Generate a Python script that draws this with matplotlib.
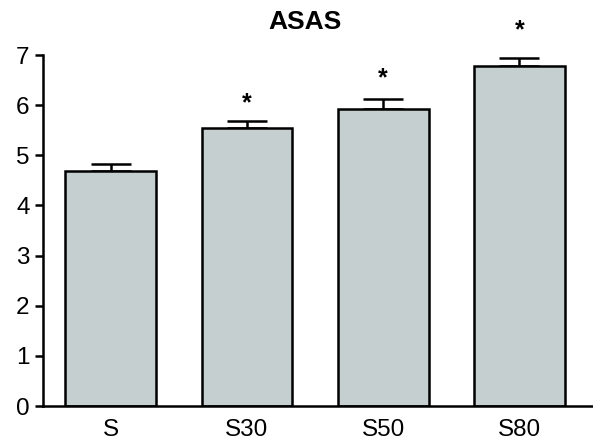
import numpy as np
import matplotlib.pyplot as plt

plt.rcParams['font.family'] = ['Liberation Sans', 'DejaVu Sans']

groups = ['S', 'S30', 'S50', 'S80']
means = [4.69, 5.54, 5.92, 6.78]
sem = [0.13, 0.14, 0.20, 0.16]
significant = [False, True, True, True]
star_offset = [18, 18, 21, 28]  # px above the error cap

fig = plt.figure(figsize=(5.93, 4.43), dpi=100)
ax = fig.add_axes([0.072, 0.0835, 0.928, 0.7923])

lw = 1.8
x = np.arange(len(groups))
ax.bar(x, means, width=0.667, color='#c5cfcf', edgecolor='black',
       linewidth=lw, zorder=2)
ax.errorbar(x, means, yerr=[np.zeros(len(sem)), sem], fmt='none',
            ecolor='black', elinewidth=lw, capsize=14.5, capthick=lw,
            zorder=1)

for xi, m, e, sig, off in zip(x, means, sem, significant, star_offset):
    if sig:
        ax.annotate('*', (xi, m + e), xytext=(0, off * 0.72),
                    textcoords='offset points', ha='center', va='center',
                    fontsize=18, fontweight='bold')

ax.set_xlim(-0.5, 3.54)
ax.set_ylim(0, 7)
ax.set_yticks(range(8))
ax.set_xticks(x)
ax.set_xticklabels(groups)

for side in ('top', 'right'):
    ax.spines[side].set_visible(False)
for side in ('left', 'bottom'):
    ax.spines[side].set_linewidth(lw)

ax.tick_params(axis='y', length=5.5, width=lw, labelsize=17.5, pad=4)
ax.tick_params(axis='x', length=0, labelsize=17.5, pad=9)

fig.text(305 / 593, 1 - 22 / 443, 'ASAS', ha='center', va='center',
         fontsize=19, fontweight='bold')

fig.savefig('out.png', dpi=100)
